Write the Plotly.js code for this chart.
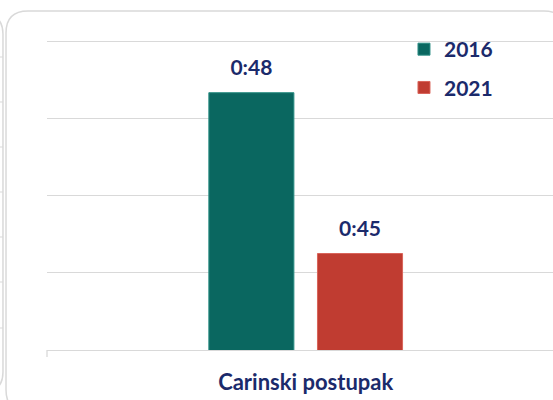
<!DOCTYPE html>
<html>
<head>
<meta charset="utf-8">
<script src="https://cdn.plot.ly/plotly-3.0.1.min.js"></script>
<style>
html,body{margin:0;padding:0;background:#fff;}
#chart{width:553px;height:400px;}
</style>
</head>
<body>
<div id="chart"></div>
<script>
// ---- data ----
var categories = ['Carinski postupak'];
var seriesNames = ['2016', '2021'];
var values2016 = [48];          // minutes (0:48)
var values2021 = [45];          // minutes (0:45)
var labels2016 = ['0:48'];
var labels2021 = ['0:45'];
// axis in minutes: Excel day-fraction gridlines 0.030 .. 0.034 day
var yTickVals = [43.2, 44.64, 46.08, 47.52, 48.96];

// ---- layout helpers (pixel -> paper) ----
var W = 553, H = 400, ML = 47, MR = 0, MT = 38, MB = 50;
var PW = W - ML - MR, PH = H - MT - MB;
function px(x){ return ((x - ML) / PW).toFixed(4); }
function py(y){ return ((H - MB - y) / PH).toFixed(4); }

var navy = '#1b2a6b';
var font = 'Lato, "Open Sans", sans-serif';

function roundRect(x0, y0, x1, y1, r){
  return 'M' + px(x0 + r) + ',' + py(y0) +
    ' L' + px(x1 - r) + ',' + py(y0) +
    ' Q' + px(x1) + ',' + py(y0) + ' ' + px(x1) + ',' + py(y0 + r) +
    ' L' + px(x1) + ',' + py(y1 - r) +
    ' Q' + px(x1) + ',' + py(y1) + ' ' + px(x1 - r) + ',' + py(y1) +
    ' L' + px(x0 + r) + ',' + py(y1) +
    ' Q' + px(x0) + ',' + py(y1) + ' ' + px(x0) + ',' + py(y1 - r) +
    ' L' + px(x0) + ',' + py(y0 + r) +
    ' Q' + px(x0) + ',' + py(y0) + ' ' + px(x0 + r) + ',' + py(y0) + ' Z';
}

var shapes = [
  {type:'path', xref:'paper', yref:'paper', path: roundRect(6, 11, 566, 412, 22),
   line:{color:'#d9d9d9', width:1.5}, fillcolor:'rgba(0,0,0,0)', layer:'below'},
  {type:'path', xref:'paper', yref:'paper', path: roundRect(-540, 14, 3, 392, 20),
   line:{color:'#d9d9d9', width:1.5}, fillcolor:'rgba(0,0,0,0)', layer:'below'},
  {type:'line', xref:'paper', yref:'paper', x0:0, x1:0, y0:0, y1:py(357),
   line:{color:'#d9d9d9', width:1.3}}
];
[57, 102, 147, 192, 237, 282, 328].forEach(function(y){
  shapes.push({type:'line', xref:'paper', yref:'paper', x0:px(-2), x1:px(3), y0:py(y), y1:py(y),
    line:{color:'#d9d9d9', width:1}});
});

var labelTemplate = '<span style="font-size:21px">%{text}</span><br> ';

var traces = [
  {type:'bar', name: seriesNames[0], x: categories, y: values2016,
   text: labels2016, texttemplate: labelTemplate, textposition:'outside', cliponaxis:false,
   constraintext:'none',
   textfont:{family:font, size:10, color:navy, weight:'bold'},
   marker:{color:'#0a6760', line:{color:'#2f8f86', width:1}}, hoverinfo:'skip',
   legendgroup:'a'},
  {type:'bar', name: seriesNames[1], x: categories, y: values2021,
   text: labels2021, texttemplate: labelTemplate, textposition:'outside', cliponaxis:false,
   constraintext:'none',
   textfont:{family:font, size:10, color:navy, weight:'bold'},
   marker:{color:'#c03c31', line:{color:'#d9645a', width:1}}, hoverinfo:'skip',
   legendgroup:'b'}
];

var layout = {
  width: W, height: H,
  margin:{l:ML, r:MR, t:MT, b:MB, pad:0},
  paper_bgcolor:'#ffffff', plot_bgcolor:'rgba(0,0,0,0)',
  barmode:'group', bargap:0.58, bargroupgap:0.217,
  showlegend:true,
  legend:{x:px(404), y:py(29), xanchor:'left', yanchor:'top',
    font:{family:font, size:21, color:navy, weight:'bold'},
    bgcolor:'rgba(0,0,0,0)', traceorder:'grouped', tracegroupgap:8},
  xaxis:{type:'category', range:[-0.5, 0.478], showgrid:false, zeroline:false,
    showline:true, linecolor:'#d9d9d9', linewidth:1.3, ticks:'',
    ticklabelstandoff:12,
    tickfont:{family:font, size:22, color:navy, weight:'bold'}, fixedrange:true},
  yaxis:{range:[43.2, 49.02], tickmode:'array', tickvals:yTickVals,
    showticklabels:false, showgrid:true, gridcolor:'#d9d9d9', gridwidth:1.3,
    zeroline:false, showline:false, ticks:'', fixedrange:true},
  shapes: shapes
};

Plotly.newPlot('chart', traces, layout, {staticPlot:true, displayModeBar:false});
</script>
</body>
</html>
